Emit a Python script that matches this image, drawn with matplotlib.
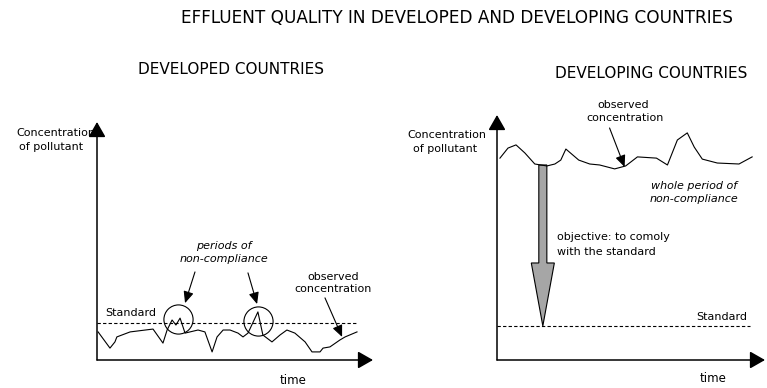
import matplotlib
matplotlib.use("Agg")
import matplotlib.pyplot as plt
from matplotlib.patches import FancyArrow

W, H = 767, 388

# ---- data (time in % of period, concentration in % of axis height) ----
dev_time = [0.4, 4.7, 6.5, 7.2, 12.0, 20.3, 23.9, 25.4, 27.2, 28.6, 30.1, 31.9,
            33.7, 36.6, 39.1, 41.7, 43.5, 45.7, 48.2, 51.1, 52.9, 54.7, 58.3,
            60.1, 63.4, 66.3, 68.8, 71.7, 75.4, 77.9, 80.8, 81.9, 84.4, 88.0,
            89.9, 94.2]
dev_conc = [11.8, 5.0, 7.6, 9.7, 11.8, 13.0, 7.1, 12.6, 16.8, 14.7, 17.6, 11.3,
            11.8, 12.6, 11.8, 3.4, 9.7, 12.6, 12.6, 11.3, 9.7, 11.3, 20.2,
            10.5, 7.6, 10.5, 12.6, 11.3, 7.6, 3.4, 3.4, 5.0, 5.5, 8.4,
            9.7, 11.8]
dev_standard = 15.5
dev_exceed_time = [29.3, 58.3]
dev_exceed_conc = [17.2, 16.4]

dvg_time = [1.1, 4.1, 7.1, 10.4, 14.1, 18.6, 21.6, 23.8, 25.7, 30.5, 34.6, 38.3,
            43.9, 48.0, 52.4, 59.5, 63.6, 67.3, 71.0, 73.6, 76.6, 82.2, 90.3, 95.2]
dvg_conc = [82.4, 86.5, 87.8, 84.5, 80.0, 79.2, 80.0, 81.6, 86.1, 81.6, 80.0, 79.6,
            78.0, 79.2, 82.9, 82.4, 79.6, 89.8, 92.7, 86.9, 82.0, 80.4, 80.0, 82.9]
dvg_standard = 13.9

title = "EFFLUENT QUALITY IN DEVELOPED AND DEVELOPING COUNTRIES"
left_title = "DEVELOPED COUNTRIES"
right_title = "DEVELOPING COUNTRIES"

plt.rcParams['font.family'] = ['DejaVu Sans']

fig = plt.figure(figsize=(W / 100, H / 100), dpi=100)
fig.patch.set_facecolor('white')


def fx(x):
    return x / W


def fy(y):
    return 1 - y / H


def axis_arrows(ax):
    ap = dict(arrowstyle='-|>,head_length=0.42,head_width=0.24', mutation_scale=22,
              lw=1.1, color='black', shrinkA=0, shrinkB=0)
    ax.annotate('', xy=(1, 0), xytext=(0, 0), xycoords='axes fraction',
                textcoords='axes fraction', arrowprops=ap, annotation_clip=False)
    ax.annotate('', xy=(0, 1), xytext=(0, 0), xycoords='axes fraction',
                textcoords='axes fraction', arrowprops=ap, annotation_clip=False)


# ---------------- left panel ----------------
axL = fig.add_axes([fx(97), 1 - 360 / H, 276 / W, 238 / H])
axL.set_xlim(0, 100)
axL.set_ylim(0, 100)
axL.axis('off')
axis_arrows(axL)
axL.plot(dev_time, dev_conc, color='black', lw=0.8)
axL.plot([0, 94.5], [dev_standard, dev_standard], color='black', lw=0.8,
         linestyle=(0, (3, 2)))
axL.plot(dev_exceed_time, dev_exceed_conc, linestyle='none', marker='o',
         markersize=21, markerfacecolor='none', markeredgecolor='black',
         markeredgewidth=0.8)
aps = dict(arrowstyle='-|>,head_length=0.5,head_width=0.22', mutation_scale=14,
           lw=0.8, color='black', shrinkA=0, shrinkB=0)
axL.annotate('', xy=(31.9, 23.9), xytext=(35.5, 37.0), arrowprops=aps)
axL.annotate('', xy=(58.0, 23.5), xytext=(54.7, 36.6), arrowprops=aps)
axL.annotate('', xy=(88.8, 9.7), xytext=(82.6, 26.1), arrowprops=aps)

# ---------------- right panel ----------------
axR = fig.add_axes([fx(497), 1 - 360 / H, 268 / W, 245 / H])
axR.set_xlim(0, 100)
axR.set_ylim(0, 100)
axR.axis('off')
axis_arrows(axR)
axR.plot(dvg_time, dvg_conc, color='black', lw=0.8)
axR.plot([0, 94.5], [dvg_standard, dvg_standard], color='black', lw=0.8,
         linestyle=(0, (3, 2)))
axR.add_patch(FancyArrow(17.1, 79.6, 0, dvg_standard - 79.6, width=3.0,
                         head_width=8.6, head_length=25.7,
                         length_includes_head=True, facecolor='#a6a6a6',
                         edgecolor='black', lw=0.8))
axR.annotate('', xy=(47.6, 78.8), xytext=(42.0, 94.7), arrowprops=aps,
             annotation_clip=False)

# ---------------- texts ----------------
fig.text(fx(457), fy(18), title, ha='center', va='center', fontsize=12.2)
fig.text(fx(231), fy(70), left_title, ha='center', va='center', fontsize=11)
fig.text(fx(651), fy(74), right_title, ha='center', va='center', fontsize=11)

small = 8
fig.text(fx(95), fy(133), "Concentration", ha='right', va='center', fontsize=small)
fig.text(fx(51), fy(147), "of pollutant", ha='center', va='center', fontsize=small)
fig.text(fx(105), fy(313), "Standard", ha='left', va='center', fontsize=small)
fig.text(fx(224), fy(246), "periods of", ha='center', va='center', fontsize=small,
         style='italic')
fig.text(fx(224), fy(259), "non-compliance", ha='center', va='center', fontsize=small,
         style='italic')
fig.text(fx(333), fy(277), "observed", ha='center', va='center', fontsize=small)
fig.text(fx(333), fy(289), "concentration", ha='center', va='center', fontsize=small)
fig.text(fx(293), fy(380), "time", ha='center', va='center', fontsize=8.5)

fig.text(fx(447), fy(135), "Concentration", ha='center', va='center', fontsize=small)
fig.text(fx(445), fy(149), "of pollutant", ha='center', va='center', fontsize=small)
fig.text(fx(623), fy(105), "observed", ha='center', va='center', fontsize=small)
fig.text(fx(625), fy(118), "concentration", ha='center', va='center', fontsize=small)
fig.text(fx(694), fy(186), "whole period of", ha='center', va='center', fontsize=small,
         style='italic')
fig.text(fx(694), fy(199), "non-compliance", ha='center', va='center', fontsize=small,
         style='italic')
fig.text(fx(557), fy(237), "objective: to comoly", ha='left', va='center', fontsize=small)
fig.text(fx(557), fy(252), "with the standard", ha='left', va='center', fontsize=small)
fig.text(fx(747), fy(317), "Standard", ha='right', va='center', fontsize=small)
fig.text(fx(713), fy(378), "time", ha='center', va='center', fontsize=8.5)

fig.savefig("out.png", dpi=100)
